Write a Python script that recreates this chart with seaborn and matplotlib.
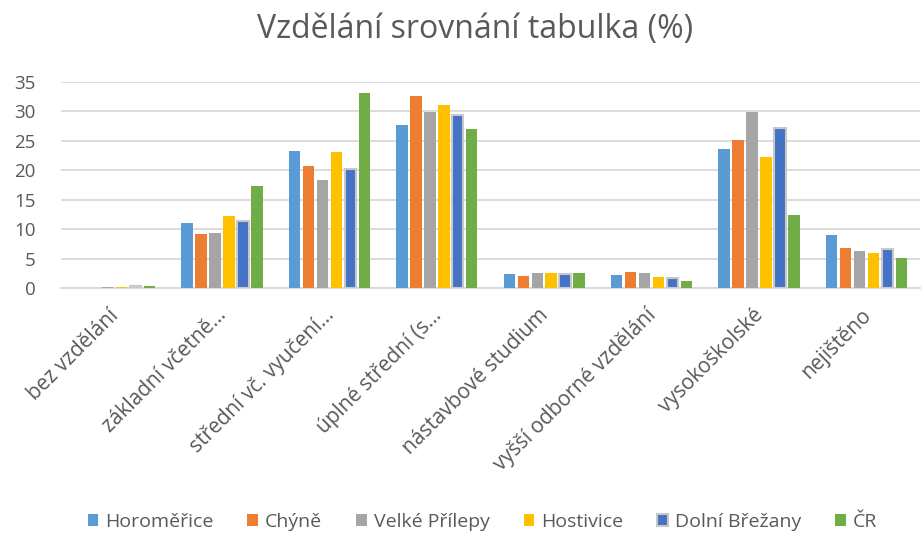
import pandas as pd
import matplotlib.pyplot as plt
import matplotlib.transforms as mtransforms
import seaborn as sns

sns.set_theme(style="white")
plt.rcParams['font.family'] = ['Open Sans', 'DejaVu Sans']

# data (%)
kategorie = ["bez vzdělání", "základní včetně…", "střední vč. vyučení…",
             "úplné střední (s…", "nástavbové studium", "vyšší odborné vzdělání",
             "vysokoškolské", "nejištěno"]
obce = ["Horoměřice", "Chýně", "Velké Přílepy", "Hostivice", "Dolní Břežany", "ČR"]

horomerice = [0.1, 11.0, 23.2, 27.6, 2.5, 2.25, 23.5, 9.0]
chyne = [0.1, 9.2, 20.7, 32.6, 2.1, 2.75, 25.1, 6.8]
velke_prilepy = [0.3, 9.3, 18.4, 29.8, 2.6, 2.6, 29.9, 6.4]
hostivice = [0.15, 12.3, 23.0, 31.1, 2.6, 1.9, 22.3, 6.0]
dolni_brezany = [0.4, 11.4, 20.2, 29.4, 2.4, 1.8, 27.1, 6.7]
cr = [0.4, 17.4, 33.0, 27.0, 2.65, 1.2, 12.4, 5.2]

barvy = ["#5B9BD5", "#ED7D31", "#A5A5A5", "#FFC000", "#4472C4", "#70AD47"]

serie = [horomerice, chyne, velke_prilepy, hostivice, dolni_brezany, cr]
df = pd.DataFrame([
    {"kategorie": k, "obec": o, "hodnota": v}
    for o, vals in zip(obce, serie)
    for k, v in zip(kategorie, vals)
])

text_col = "#595959"
grid_col = "#D9D9D9"

fig = plt.figure(figsize=(9.22, 5.33), dpi=100)
ax = fig.add_axes([0.066, 0.459, 0.932, 0.388])

sns.barplot(data=df, x="kategorie", y="hodnota", hue="obec", palette=barvy,
            width=0.78, gap=0.18, saturation=1, linewidth=0, ax=ax, zorder=3)

# Dolní Břežany has a grey outline in the original
for p in ax.containers[4]:
    p.set_edgecolor("#C8C8C8")
    p.set_linewidth(1.5)

ax.set_ylim(0, 35)
ax.set_yticks(range(0, 36, 5))
ax.yaxis.grid(True, color=grid_col, linewidth=1.3, zorder=0)
ax.set_axisbelow(True)
for s in ["top", "right", "left"]:
    ax.spines[s].set_visible(False)
ax.spines["bottom"].set_color(grid_col)
ax.spines["bottom"].set_linewidth(1.3)
ax.tick_params(axis="both", length=0, colors=text_col)
ax.tick_params(axis="y", pad=18, labelsize=13.5)
ax.tick_params(axis="x", pad=12, labelsize=15)
ax.set_xlabel("")
ax.set_ylabel("")
posun = mtransforms.ScaledTranslation(-6 / 100, 0, fig.dpi_scale_trans)
for lab in ax.get_xticklabels():
    lab.set_rotation(45)
    lab.set_ha("right")
    lab.set_rotation_mode("anchor")
    lab.set_transform(lab.get_transform() + posun)
ax.set_xlim(-0.5, len(kategorie) - 0.5)

fig.text(0.515, 0.944, "Vzdělání srovnání tabulka (%)", ha="center", va="center",
         fontsize=23, color=text_col)

handles, labels = ax.get_legend_handles_labels()
ax.legend_.remove()
for h in handles:
    h.set_linewidth(0)
handles[4].set_edgecolor("#C8C8C8")
handles[4].set_linewidth(1.5)
fig.legend(handles, labels, loc="center", bbox_to_anchor=(0.523, 0.021), ncol=6,
           frameon=False, fontsize=14, handlelength=0.55, handleheight=0.6,
           handletextpad=0.35, columnspacing=1.75, labelcolor=text_col)

fig.savefig("out.png", dpi=100)
